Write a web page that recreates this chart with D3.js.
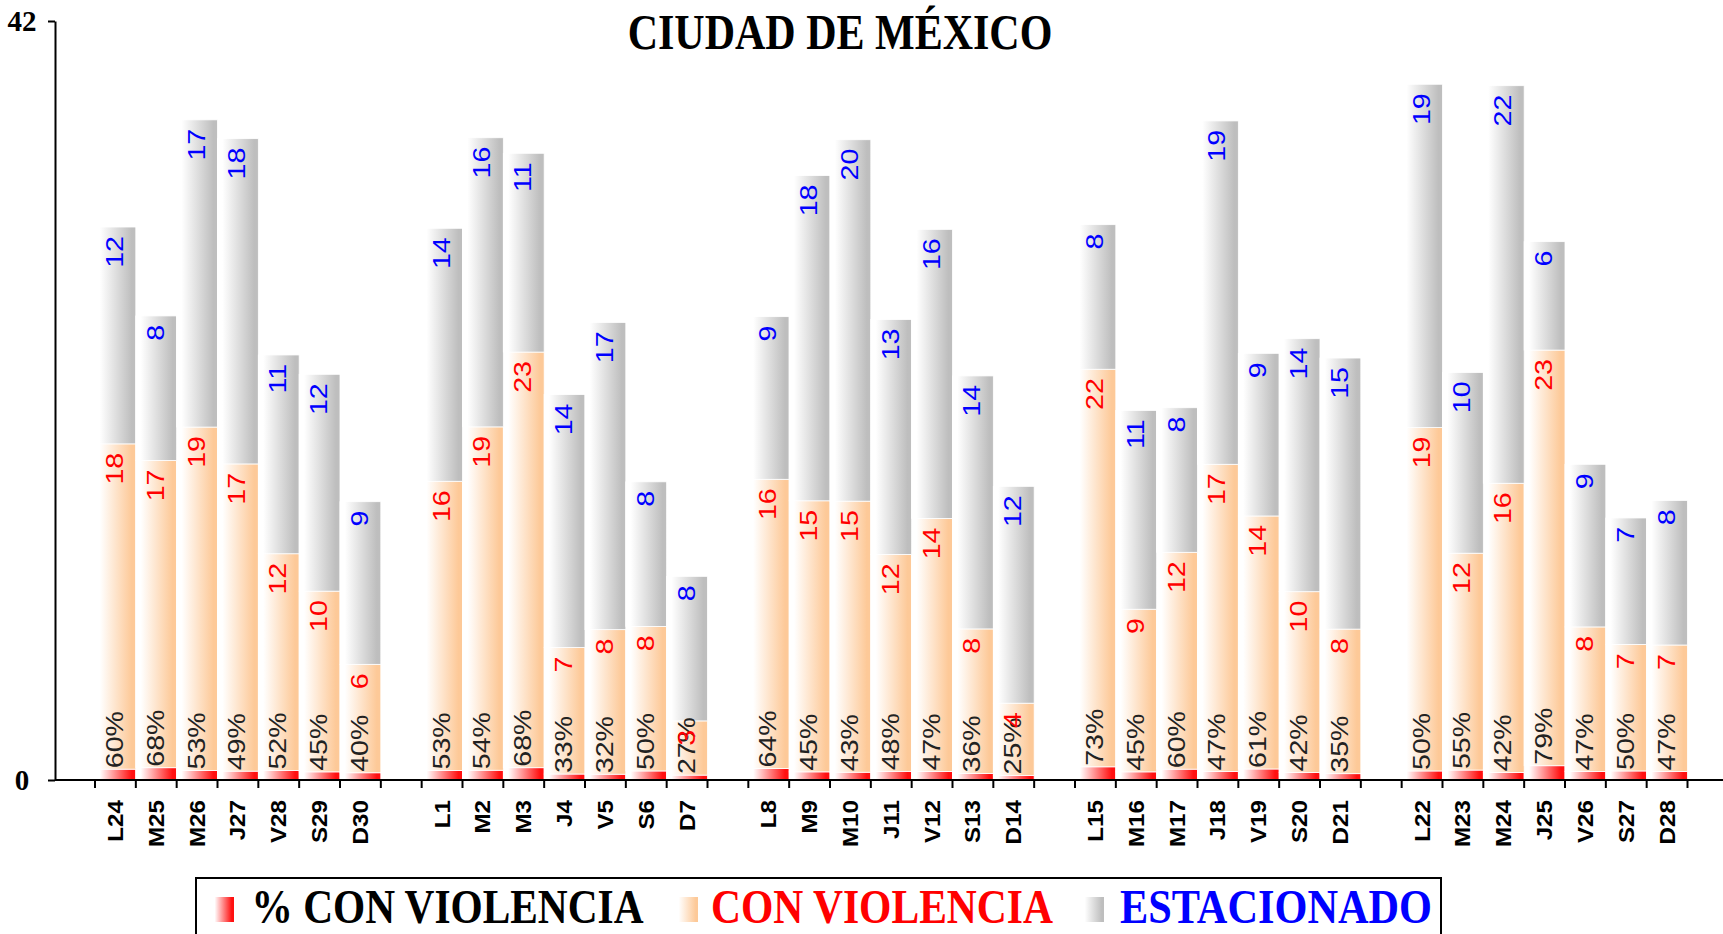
<!DOCTYPE html>
<html><head><meta charset="utf-8">
<script src="https://cdn.jsdelivr.net/npm/d3@7"></script>
<style>html,body{margin:0;padding:0;background:#fff;overflow:hidden}</style>
</head><body><svg id="chart" width="1723" height="934"></svg>
<script>
const days = ["L24","M25","M26","J27","V28","S29","D30","L1","M2","M3","J4","V5","S6","D7","L8","M9","M10","J11","V12","S13","D14","L15","M16","M17","J18","V19","S20","D21","L22","M23","M24","J25","V26","S27","D28"];
const pctConViolencia = [60,68,53,49,52,45,40, 53,54,68,33,32,50,27, 64,45,43,48,47,36,25, 73,45,60,47,61,42,35, 50,55,42,79,47,50,47];
const conViolencia = [18,17,19,17,12,10,6, 16,19,23,7,8,8,3, 16,15,15,12,14,8,4, 22,9,12,17,14,10,8, 19,12,16,23,8,7,7];
const estacionado = [12,8,17,18,11,12,9, 14,16,11,14,17,8,8, 9,18,20,13,16,14,12, 8,11,8,19,9,14,15, 19,10,22,6,9,7,8];
const yTicks = [0, 42];
const title = "CIUDAD DE MÉXICO";
const seriesNames = ["% CON VIOLENCIA","CON VIOLENCIA","ESTACIONADO"];

const svg = d3.select("#chart");
const slots = [];
days.forEach((d,i)=>{ if(i>0 && i%7===0) slots.push("gap"+i); slots.push(d); });
const x = d3.scaleBand().domain(slots).range([95,1687.5]).padding(0);
const y = d3.scaleLinear().domain([0,42]).range([780,21]);
const bw = x.bandwidth();

const rows = days.map((d,i)=>({day:d, idx:i, pct:pctConViolencia[i]/100, cv:conViolencia[i], est:estacionado[i]}));
const keys = ["pct","cv","est"];
const stacked = d3.stack().keys(keys)(rows);
const colors = ["#ff1010","#fdc998","#bebebe"];
const textColors = ["#000000","#ff0000","#0000ff"];
const valueArrays = [pctConViolencia, conViolencia, estacionado];

const defs = svg.append("defs");
colors.forEach((c,i)=>{
  const g = defs.append("linearGradient").attr("id","g"+i).attr("x1",0).attr("x2",1).attr("y1",0).attr("y2",0);
  [[0,"#ffffff"],[0.12,"#ffffff"],[0.9,c],[1,c]].forEach(s=>g.append("stop").attr("offset",s[0]).attr("stop-color",s[1]));
});

// bars
svg.append("g").selectAll("g").data(stacked).join("g")
  .attr("fill",(d,i)=>`url(#g${i})`)
  .selectAll("rect").data(d=>d).join("rect")
  .attr("x",d=>x(d.data.day)).attr("width",bw)
  .attr("y",d=>y(d[1])).attr("height",d=>y(d[0])-y(d[1]))
  .attr("stroke","#ffffff").attr("stroke-width",0.8);

function rot(cx, cy, sy){ return `translate(${cx},${cy}) scale(1,${sy}) rotate(-90)`; }

// value labels
const lab = svg.append("g").attr("font-family","'Liberation Sans', Arial, sans-serif").attr("font-size",24);
lab.selectAll("text.p").data(stacked[0]).join("text").attr("class","p")
  .attr("transform",d=>rot(x(d.data.day)+bw/2+7.5, y(d[1])-1, 1.19))
  .attr("text-anchor","start").attr("fill","#222222")
  .text(d=>pctConViolencia[d.data.idx]+"%");
[1,2].forEach(k=>{
  lab.selectAll("text.s"+k).data(stacked[k]).join("text").attr("class","s"+k)
    .attr("transform",d=>rot(x(d.data.day)+bw/2+7.5, y(d[1])+9, 1.19))
    .attr("text-anchor","end").attr("fill",textColors[k])
    .text(d=>valueArrays[k][d.data.idx]);
});

// y axis
const yAxis = svg.append("g").attr("transform","translate(55,0)")
  .call(d3.axisLeft(y).tickValues(yTicks).tickSize(7).tickSizeOuter(0));
yAxis.select(".domain").attr("stroke","#000").attr("stroke-width",2);
yAxis.selectAll(".tick line").attr("stroke","#000").attr("stroke-width",2);
yAxis.selectAll(".tick text").attr("x",-33).attr("dy","0.34em").attr("text-anchor","middle")
  .style("font-family","'Liberation Serif','Times New Roman',serif").style("font-weight","bold").style("font-size","29px").attr("fill","#000");

// x axis
const xg = svg.append("g");
xg.append("line").attr("x1",55).attr("x2",1723).attr("y1",y(0)).attr("y2",y(0)).attr("stroke","#000").attr("stroke-width",2);
const bounds = slots.map(s=>x(s)).concat([x.range()[1]]);
xg.selectAll("line.t").data(bounds).join("line").attr("class","t")
  .attr("x1",d=>d).attr("x2",d=>d).attr("y1",y(0)).attr("y2",y(0)+8).attr("stroke","#000").attr("stroke-width",2);
xg.selectAll("text").data(days).join("text")
  .attr("transform",d=>rot(x(d)+bw/2+7.5, 800, 1.1))
  .attr("text-anchor","end").attr("font-family","'Liberation Sans', Arial, sans-serif").attr("font-weight","bold").attr("font-size",22).attr("fill","#000")
  .text(d=>d);

// title
svg.append("text").attr("transform","translate(840,49) scale(1,1.19)")
  .attr("text-anchor","middle").attr("font-family","'Liberation Serif','Times New Roman',serif").attr("font-weight","bold").attr("font-size",42).attr("fill","#000")
  .text(title);

// legend
const lg = svg.append("g");
lg.append("rect").attr("x",196).attr("y",878).attr("width",1245).attr("height",80).attr("fill","#fff").attr("stroke","#000").attr("stroke-width",2);
const legItems = [
  {sx:212, tx:251.5, tl:392},
  {sx:676, tx:711, tl:342},
  {sx:1082, tx:1120, tl:312}
];
legItems.forEach((it,i)=>{
  lg.append("rect").attr("x",it.sx).attr("y",897).attr("width",22).attr("height",25).attr("fill",`url(#g${i})`);
  lg.append("text").attr("transform",`translate(${it.tx},923) scale(1,1.2)`)
    .attr("font-family","'Liberation Serif','Times New Roman',serif").attr("font-weight","bold").attr("font-size",41)
    .attr("fill",textColors[i]).attr("textLength",it.tl).attr("lengthAdjust","spacingAndGlyphs")
    .text(seriesNames[i]);
});
</script>
</body></html>
